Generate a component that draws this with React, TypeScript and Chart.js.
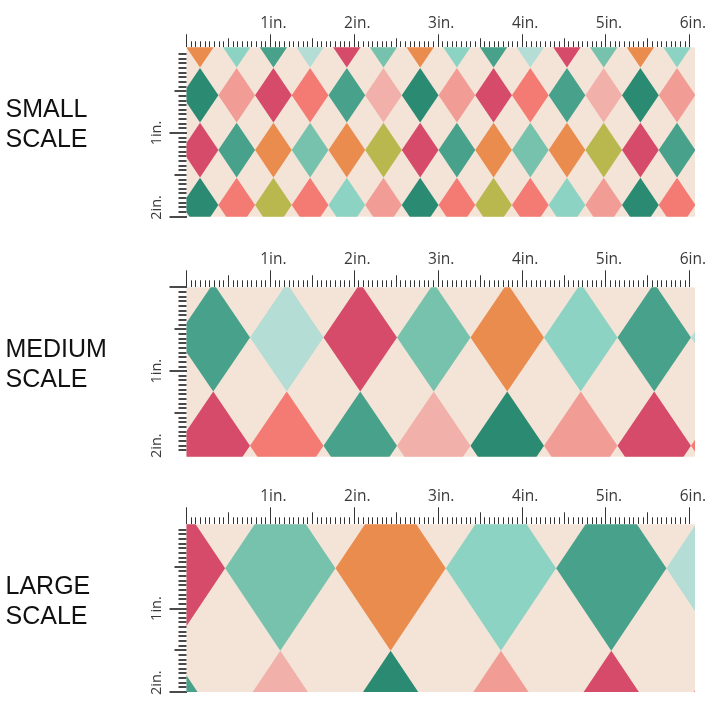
import React, { useEffect, useRef } from 'react';
import { Chart, registerables } from 'chart.js';

Chart.register(...registerables);

// ---------- colours ----------
const CREAM = '#f4e4d7';
const PALETTE: Record<string, string> = {
  orange: '#eb8c4f',
  mint: '#8dd3c4',
  teal: '#47a18b',
  paleMint: '#b4ddd6',
  crimson: '#d54b69',
  seafoam: '#77c2ad',
  darkTeal: '#2a8a72',
  salmon: '#f19d96',
  coral: '#f47b73',
  blush: '#f2b0ab',
  olive: '#b9b84f',
};

// ---------- ruler ----------
const STEPS_PER_INCH = 18;
const X_RULER_MAX_INCH = 6;
const Y_RULER_MAX_INCH = 2;
const X_RULER_LABELS = ['1in.', '2in.', '3in.', '4in.', '5in.', '6in.'];
const X_RULER_LABEL_STEPS = [18, 36, 54, 72, 90, 108];
const Y_RULER_LABELS = ['1in.', '2in.'];
const Y_RULER_LABEL_STEPS = [18, 34]; // the 2in. label sits just above its tick

// ---------- SMALL SCALE (inches) ----------
const SMALL_COL_X = [0.161, 0.598, 1.036, 1.473, 1.911, 2.348, 2.785, 3.223, 3.66, 4.098, 4.535, 4.973, 5.41, 5.847];
const SMALL_ROW_Y = [-0.109, 0.548, 1.204, 1.86];
const SMALL_HALF_W = 0.219;
const SMALL_HALF_H = 0.326;
const SMALL_ROW_1 = ['orange', 'mint', 'teal', 'paleMint', 'crimson', 'seafoam', 'orange', 'mint', 'teal', 'paleMint', 'crimson', 'seafoam', 'orange', 'mint'];
const SMALL_ROW_2 = ['darkTeal', 'salmon', 'crimson', 'coral', 'teal', 'blush', 'darkTeal', 'salmon', 'crimson', 'coral', 'teal', 'blush', 'darkTeal', 'salmon'];
const SMALL_ROW_3 = ['crimson', 'teal', 'orange', 'seafoam', 'orange', 'olive', 'crimson', 'teal', 'orange', 'seafoam', 'orange', 'olive', 'crimson', 'teal'];
const SMALL_ROW_4 = ['darkTeal', 'coral', 'olive', 'coral', 'mint', 'salmon', 'darkTeal', 'coral', 'olive', 'coral', 'mint', 'salmon', 'darkTeal', 'coral'];

// ---------- MEDIUM SCALE ----------
const MEDIUM_COL_X = [0.319, 1.195, 2.071, 2.947, 3.823, 4.699, 5.575, 6.451];
const MEDIUM_ROW_Y = [0.598, 1.89];
const MEDIUM_HALF_W = 0.438;
const MEDIUM_HALF_H = 0.646;
const MEDIUM_ROW_1 = ['teal', 'paleMint', 'crimson', 'seafoam', 'orange', 'mint', 'teal', 'paleMint'];
const MEDIUM_ROW_2 = ['crimson', 'coral', 'teal', 'blush', 'darkTeal', 'salmon', 'crimson', 'coral'];

// ---------- LARGE SCALE ----------
const LARGE_COL_X = [-0.197, 1.118, 2.433, 3.748, 5.063, 6.377];
const LARGE_ROW_Y = [0.518, 2.493];
const LARGE_HALF_W = 0.657;
const LARGE_HALF_H = 0.988;
const LARGE_ROW_1 = ['crimson', 'seafoam', 'orange', 'mint', 'teal', 'paleMint'];
const LARGE_ROW_2 = ['teal', 'blush', 'darkTeal', 'salmon', 'crimson', 'coral'];

type TickLens = { major: number; half: number; minor: number };
type PanelSpec = {
  name: string[];
  top: number;
  height: number;
  topAxis: number;
  bottomPad: number;
  yMin: number;
  yMax: number;
  cols: number[];
  rows: number[];
  halfW: number;
  halfH: number;
  colors: string[][];
  topTicks: TickLens;
};

const X_MIN = 0;
const X_MAX = 6.061;
const LEFT_PAD = 130;
const LEFT_AXIS = 56.5;
const RIGHT_PAD = 25;
const LEFT_TICKS: TickLens = { major: 17, half: 12, minor: 8 };
const LABEL_COLOR = '#3a3a3a';

const PANELS: PanelSpec[] = [
  {
    name: ['SMALL', 'SCALE'], top: 0, height: 230, topAxis: 47.3, bottomPad: 13.3,
    yMin: -0.025, yMax: 2.0, cols: SMALL_COL_X, rows: SMALL_ROW_Y, halfW: SMALL_HALF_W, halfH: SMALL_HALF_H,
    colors: [SMALL_ROW_1, SMALL_ROW_2, SMALL_ROW_3, SMALL_ROW_4], topTicks: { major: 13, half: 9, minor: 6 },
  },
  {
    name: ['MEDIUM', 'SCALE'], top: 240, height: 230, topAxis: 47.3, bottomPad: 13.3,
    yMin: 0, yMax: 2.02, cols: MEDIUM_COL_X, rows: MEDIUM_ROW_Y, halfW: MEDIUM_HALF_W, halfH: MEDIUM_HALF_H,
    colors: [MEDIUM_ROW_1, MEDIUM_ROW_2], topTicks: { major: 17, half: 12, minor: 7 },
  },
  {
    name: ['LARGE', 'SCALE'], top: 476, height: 230, topAxis: 48.3, bottomPad: 14,
    yMin: -0.01, yMax: 2.0, cols: LARGE_COL_X, rows: LARGE_ROW_Y, halfW: LARGE_HALF_W, halfH: LARGE_HALF_H,
    colors: [LARGE_ROW_1, LARGE_ROW_2], topTicks: { major: 17, half: 12, minor: 7 },
  },
];

function stepIndex(v: number): number | null {
  const s = v * STEPS_PER_INCH;
  const k = Math.round(s);
  return Math.abs(s - k) < 1e-3 ? k : null;
}

function tickKind(v: number, maxInch: number): 'major' | 'half' | 'minor' | 'none' {
  const k = stepIndex(v);
  if (k === null || k < 0 || k > maxInch * STEPS_PER_INCH) return 'none';
  if (k % STEPS_PER_INCH === 0) return 'major';
  if (k % (STEPS_PER_INCH / 2) === 0) return 'half';
  return 'minor';
}

function dashFor(v: number, maxInch: number, lens: TickLens): number[] {
  const kind = tickKind(v, maxInch);
  if (kind === 'half') return [0, lens.major - lens.half, lens.half, 1000];
  if (kind === 'minor') return [0, lens.major - lens.minor, lens.minor, 1000];
  return [];
}

const bgPlugin = {
  id: 'fabricBackground',
  beforeDraw(chart: any) {
    const { ctx, chartArea: a } = chart;
    if (!a) return;
    ctx.save();
    ctx.fillStyle = CREAM;
    ctx.fillRect(a.left, a.top, a.right - a.left, a.bottom - a.top);
    ctx.restore();
  },
};

function buildConfig(p: PanelSpec): any {
  const datasets: any[] = [];
  p.rows.forEach((yc, r) => {
    p.cols.forEach((xc, c) => {
      const color = PALETTE[p.colors[r][c]];
      datasets.push({
        data: [
          { x: xc - p.halfW, y: yc },
          { x: xc, y: yc - p.halfH },
          { x: xc + p.halfW, y: yc },
          { x: xc, y: yc + p.halfH },
          { x: xc - p.halfW, y: yc },
        ],
        backgroundColor: color,
        borderColor: 'rgba(0,0,0,0)',
        borderWidth: 0,
        pointRadius: 0,
        pointHoverRadius: 0,
        tension: 0,
        fill: 'shape',
      });
    });
  });

  return {
    type: 'line',
    data: { datasets },
    plugins: [bgPlugin],
    options: {
      responsive: false,
      animation: false,
      devicePixelRatio: 1,
      events: [],
      layout: { padding: { left: LEFT_PAD, right: RIGHT_PAD, top: 0, bottom: p.bottomPad } },
      plugins: { legend: { display: false }, tooltip: { enabled: false }, title: { display: false } },
      scales: {
        x: {
          type: 'linear',
          position: 'top',
          min: X_MIN,
          max: X_MAX,
          border: { display: false },
          grid: {
            display: true,
            drawOnChartArea: false,
            drawTicks: true,
            tickLength: p.topTicks.major,
            lineWidth: 1,
            tickWidth: 1,
            tickColor: (c: any) =>
              c.tick && tickKind(c.tick.value, X_RULER_MAX_INCH) !== 'none' ? '#333333' : 'rgba(0,0,0,0)',
            tickBorderDash: (c: any) => (c.tick ? dashFor(c.tick.value, X_RULER_MAX_INCH, p.topTicks) : []),
          },
          ticks: {
            stepSize: 1 / STEPS_PER_INCH,
            autoSkip: false,
            minRotation: 0,
            maxRotation: 0,
            padding: 1,
            labelOffset: 3,
            color: LABEL_COLOR,
            font: { family: '"Open Sans", "Noto Sans", sans-serif', size: 15.5 },
            callback: (v: number) => {
              const k = stepIndex(Number(v));
              const i = k === null ? -1 : X_RULER_LABEL_STEPS.indexOf(k);
              return i >= 0 ? X_RULER_LABELS[i] : '';
            },
          },
          afterFit: (s: any) => {
            s.height = p.topAxis;
            s.paddingLeft = 0;
            s.paddingRight = 0;
          },
        },
        y: {
          type: 'linear',
          position: 'left',
          reverse: true,
          min: p.yMin,
          max: p.yMax,
          border: { display: false },
          grid: {
            display: true,
            drawOnChartArea: false,
            drawTicks: true,
            tickLength: LEFT_TICKS.major,
            lineWidth: 2,
            tickWidth: 2,
            tickColor: (c: any) =>
              c.tick && tickKind(c.tick.value, Y_RULER_MAX_INCH) !== 'none' ? '#4a4a4a' : 'rgba(0,0,0,0)',
            tickBorderDash: (c: any) => (c.tick ? dashFor(c.tick.value, Y_RULER_MAX_INCH, LEFT_TICKS) : []),
          },
          ticks: {
            stepSize: 1 / STEPS_PER_INCH,
            autoSkip: false,
            minRotation: 90,
            maxRotation: 90,
            crossAlign: 'center',
            padding: 0,
            color: LABEL_COLOR,
            font: { family: '"Open Sans", "Noto Sans", sans-serif', size: 14.5 },
            callback: (v: number) => {
              const k = stepIndex(Number(v));
              const i = k === null ? -1 : Y_RULER_LABEL_STEPS.indexOf(k);
              return i >= 0 ? Y_RULER_LABELS[i] : '';
            },
          },
          afterFit: (s: any) => {
            s.width = LEFT_AXIS;
            s.paddingTop = 0;
            s.paddingBottom = 0;
          },
        },
      },
    },
  };
}

function Panel({ spec }: { spec: PanelSpec }) {
  const ref = useRef<HTMLCanvasElement>(null);
  useEffect(() => {
    if (!ref.current) return;
    const chart = new Chart(ref.current, buildConfig(spec));
    return () => chart.destroy();
  }, [spec]);
  return (
    <>
      <canvas
        ref={ref}
        width={720}
        height={spec.height}
        style={{ position: 'absolute', left: 0, top: spec.top, width: 720, height: spec.height }}
      />
      <div
        style={{
          position: 'absolute',
          left: 5.5,
          top: spec.top + spec.topAxis + 45.2,
          fontFamily: '"Liberation Sans", Arial, sans-serif',
          fontSize: 25,
          lineHeight: '30px',
          color: '#111',
          whiteSpace: 'nowrap',
        }}
      >
        {spec.name.map((line) => (
          <div key={line}>{line}</div>
        ))}
      </div>
    </>
  );
}

export default function App() {
  return (
    <div
      style={{
        position: 'fixed',
        left: 0,
        top: 0,
        width: 720,
        height: 720,
        background: '#ffffff',
        overflow: 'hidden',
      }}
    >
      {PANELS.map((p) => (
        <Panel key={p.name[0]} spec={p} />
      ))}
    </div>
  );
}
